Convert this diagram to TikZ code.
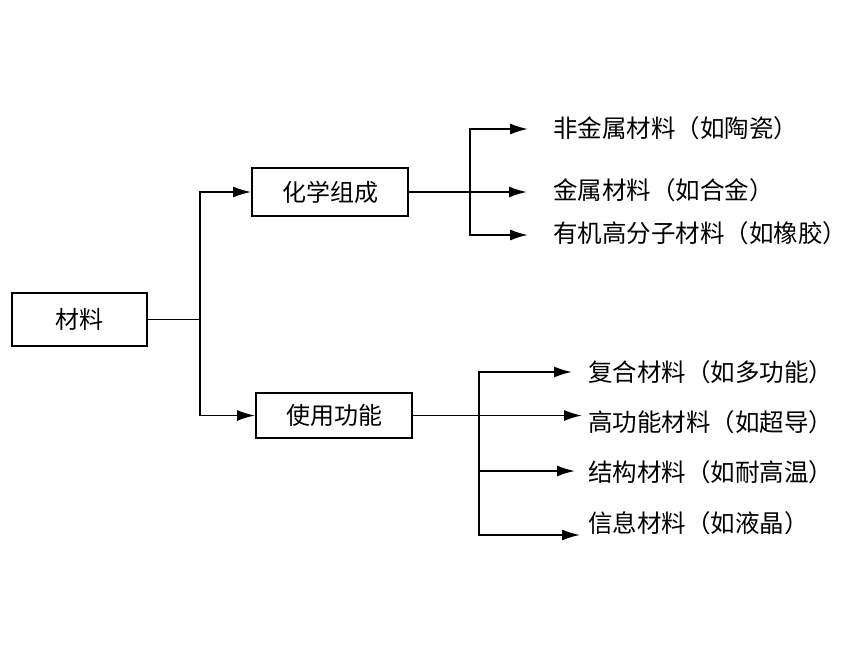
\documentclass[tikz,border=0pt]{standalone}
\usepackage{fontspec}
\newfontfamily\cjk{Noto Sans CJK SC}
\usepackage{tikz}
\usetikzlibrary{arrows.meta}
\usetikzlibrary{positioning}
\tikzstyle{box}=[draw=black, line width=1.8pt, inner sep=0pt, font=\cjk\fontsize{24}{26}\selectfont]
\tikzstyle{item}=[anchor=west, inner sep=0pt, font=\cjk\fontsize{24.5}{27}\selectfont]
\tikzstyle{link}=[line width=1.8pt]
\tikzstyle{arrow}=[link, -{Latex[length=18pt,width=11pt]}]
\begin{document}
\begin{tikzpicture}[x=1pt,y=-1pt]
          \useasboundingbox (0,0) rectangle (860,645);
          \node[box, minimum width=135pt, minimum height=53pt] (root) at (79.5,319.5){材料};
          \node[box, minimum width=156pt, minimum height=48pt] (chem) at (330,192){化学组成};
          \node[box, minimum width=156pt, minimum height=45pt] (func) at (334,415.5){使用功能};
          \coordinate (rsplit) at (root.east -| 200,0);
          \coordinate (csplit) at (chem.east -| 470,0);
          \coordinate (fsplit) at (func.east -| 479,0);
          \node[item] (c1) at (553,128){非金属材料（如陶瓷）};
          \node[item] (c2) at (553,190){金属材料（如合金）};
          \node[item] (c3) at (553,233){有机高分子材料（如橡胶）};
          \node[item] (f1) at (588,372){复合材料（如多功能）};
          \node[item] (f2) at (588,422){高功能材料（如超导）};
          \node[item] (f3) at (588,472){结构材料（如耐高温）};
          \node[item] (f4) at (588,523){信息材料（如液晶）};
          \coordinate (c1tip) at (528,129);
          \coordinate (c2tip) at (csplit -| 527,0);
          \coordinate (c3tip) at (528,235);
          \coordinate (f1tip) at (572,372);
          \coordinate (f2tip) at (fsplit -| 582,0);
          \coordinate (f3tip) at (575,471);
          \coordinate (f4tip) at (580,535);
          \draw[link](root.east) -- (rsplit);
          \draw[arrow](rsplit) |- (chem.west);
          \draw[arrow](rsplit) |- (func.west);
          \draw[link](chem.east) -- (csplit);
          \draw[arrow](csplit) |- (c1tip);
          \draw[arrow](csplit) -- (c2tip);
          \draw[arrow](csplit) |- (c3tip);
          \draw[link](func.east) -- (fsplit);
          \draw[arrow](fsplit) |- (f1tip);
          \draw[arrow](fsplit) -- (f2tip);
          \draw[arrow](fsplit) |- (f3tip);
          \draw[arrow](fsplit) |- (f4tip);
        \end{tikzpicture}
\end{document}
